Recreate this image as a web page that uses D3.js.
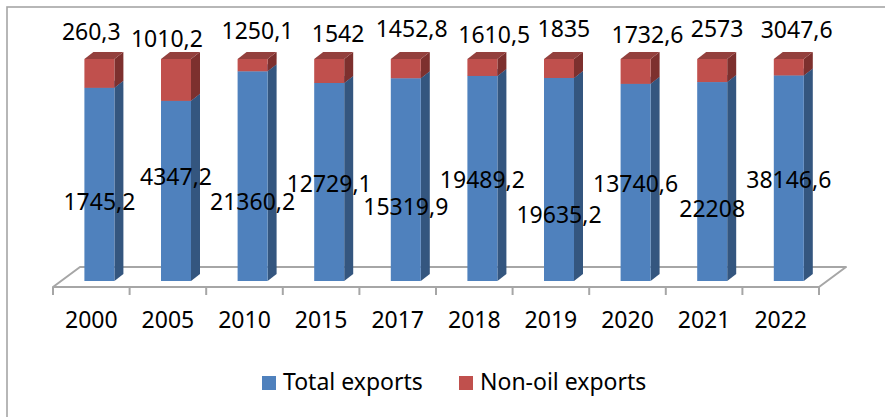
<!DOCTYPE html>
<html>
<head>
<meta charset="utf-8">
<script src="https://cdn.jsdelivr.net/npm/d3@7"></script>
<style>
  body { margin: 0; background: #fff; }
  text { font-family: "Noto Sans", sans-serif; fill: #000; }
</style>
</head>
<body>
<div id="chart-area"></div>
<script>
// Data
const years = ['2000', '2005', '2010', '2015', '2017', '2018', '2019', '2020', '2021', '2022'];
const totalExports = [1745.2, 4347.2, 21360.2, 12729.1, 15319.9, 19489.2, 19635.2, 13740.6, 22208, 38146.6];
const nonOilExports = [260.3, 1010.2, 1250.1, 1542, 1452.8, 1610.5, 1835, 1732.6, 2573, 3047.6];
const seriesNames = ['Total exports', 'Non-oil exports'];

// Label placement (Excel nudged these to avoid overlaps)
const topLabelDx = [0, -1, 13, 17, 14, 20, 13, 20, 13, 16];
const topLabelY = [40, 47, 39, 42, 37, 43, 37, 43, 37, 38];
const totalLabelY = [210, 185, 210, 192, 215, 188, 223, 192, 217, 188];

const W = 885, H = 417;
const fontSize = '23px';
const colors = {
    front: ['#4f81bd', '#c0504d'],
    side: ['#34567f', '#7d302e'],
    top: ['#4a74a8', '#93403d']
};
const fmt = (v) => String(v).replace('.', ',');

const svg = d3.select('#chart-area')
    .append('svg')
    .attr('width', W)
    .attr('height', H);

// Outer chart border (only left and top edges fall inside the frame)
svg.append('rect')
    .attr('x', 7)
    .attr('y', 7)
    .attr('width', 920)
    .attr('height', 440)
    .attr('fill', 'none')
    .attr('stroke', '#a6a6a6')
    .attr('stroke-width', 1.6);

// Floor geometry
const floorFront = 287;
const floorDx = 27, floorDy = 20;
const barDepthAt = 0.3;   // front face of bars sits 30% into the floor depth
const barDx = 9, barDy = 7;
const barW = 30;

// X Scale
const x = d3.scaleBand()
    .domain(years)
    .range([53, 819])
    .padding(0);

// Y Scale (100% stacked)
const baseY = floorFront - barDepthAt * floorDy;
const y = d3.scaleLinear()
    .domain([0, 1])
    .range([baseY, 59]);

// Floor
const x0 = x.range()[0], x1 = x.range()[1];
svg.append('path')
    .attr('d', `M${x0},${floorFront} L${x1},${floorFront} L${x1 + floorDx},${floorFront - floorDy} L${x0 + floorDx},${floorFront - floorDy} Z`)
    .attr('fill', 'none')
    .attr('stroke', '#a6a6a6')
    .attr('stroke-width', 2)
    .attr('stroke-linejoin', 'round');

// X Axis ticks and labels
const tickXs = years.map((d) => x(d)).concat([x1]);
svg.selectAll('.tick-mark')
    .data(tickXs)
    .enter()
    .append('line')
    .attr('class', 'tick-mark')
    .attr('x1', (d) => d)
    .attr('x2', (d) => d)
    .attr('y1', floorFront)
    .attr('y2', floorFront + 8)
    .attr('stroke', '#a6a6a6')
    .attr('stroke-width', 2);

svg.selectAll('.x-label')
    .data(years)
    .enter()
    .append('text')
    .attr('class', 'x-label')
    .attr('x', (d) => x(d) + x.bandwidth() / 2)
    .attr('y', 328)
    .attr('text-anchor', 'middle')
    .attr('font-size', fontSize)
    .text((d) => d);

// Stack as shares
const stacked = years.map((yr, i) => {
    const sum = totalExports[i] + nonOilExports[i];
    const a = totalExports[i] / sum;
    return { year: yr, i: i, segs: [[0, a], [a, 1]] };
});

const shift = barDepthAt * floorDx;
const bars = svg.selectAll('.bar')
    .data(stacked)
    .enter()
    .append('g')
    .attr('class', 'bar');

bars.each(function (d) {
    const g = d3.select(this);
    const left = x(d.year) + x.bandwidth() / 2 + shift - barW / 2;
    const right = left + barW;
    d.segs.forEach((s, k) => {
        const yb = y(s[0]), yt = y(s[1]);
        // side face
        g.append('path')
            .attr('d', `M${right},${yb} L${right + barDx},${yb - barDy} L${right + barDx},${yt - barDy} L${right},${yt} Z`)
            .attr('fill', colors.side[k]);
        // front face
        g.append('rect')
            .attr('x', left)
            .attr('y', yt)
            .attr('width', barW)
            .attr('height', yb - yt)
            .attr('fill', colors.front[k]);
        // top face
        g.append('path')
            .attr('d', `M${left},${yt} L${right},${yt} L${right + barDx},${yt - barDy} L${left + barDx},${yt - barDy} Z`)
            .attr('fill', colors.top[k]);
    });
});

// Data labels
svg.selectAll('.lbl-top')
    .data(stacked)
    .enter()
    .append('text')
    .attr('class', 'lbl-top')
    .attr('x', (d) => x(d.year) + x.bandwidth() / 2 + topLabelDx[d.i])
    .attr('y', (d) => topLabelY[d.i])
    .attr('text-anchor', 'middle')
    .attr('font-size', fontSize)
    .text((d) => fmt(nonOilExports[d.i]));

svg.selectAll('.lbl-total')
    .data(stacked)
    .enter()
    .append('text')
    .attr('class', 'lbl-total')
    .attr('x', (d) => x(d.year) + x.bandwidth() / 2 + shift)
    .attr('y', (d) => totalLabelY[d.i])
    .attr('text-anchor', 'middle')
    .attr('font-size', fontSize)
    .text((d) => fmt(totalExports[d.i]));

// Legend
const legendX = [262, 459];
const legend = svg.selectAll('.legend')
    .data(seriesNames)
    .enter()
    .append('g')
    .attr('class', 'legend')
    .attr('transform', (d, i) => 'translate(' + legendX[i] + ', 376)');

legend.append('rect')
    .attr('width', 14)
    .attr('height', 14)
    .attr('fill', (d, i) => colors.front[i]);

legend.append('text')
    .attr('x', 21)
    .attr('y', 13.5)
    .attr('font-size', fontSize)
    .text((d) => d);
</script>
</body>
</html>
